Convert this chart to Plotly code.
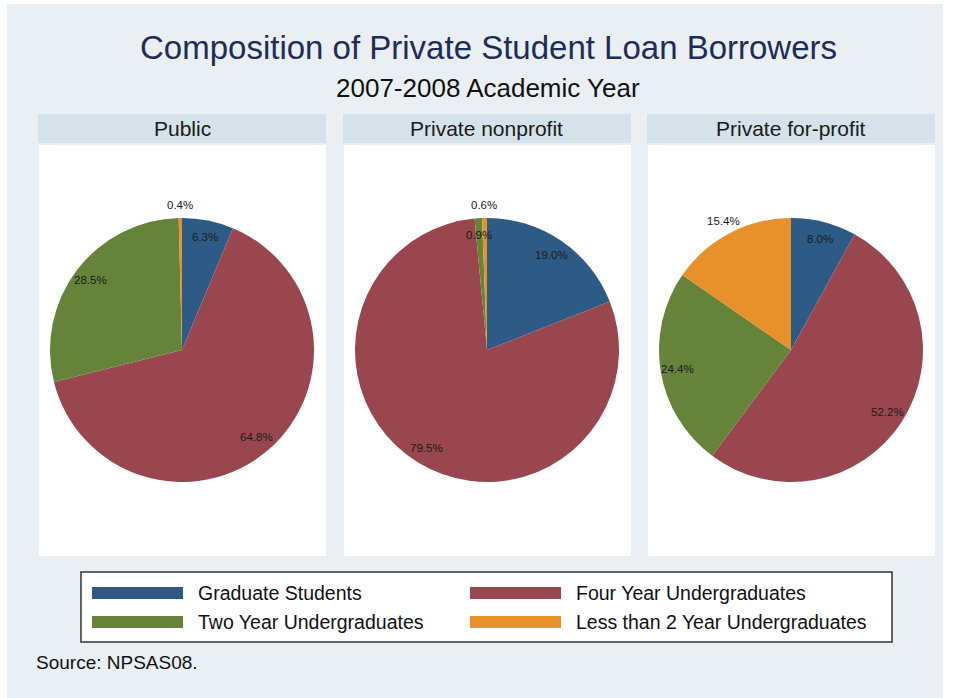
import math
import plotly.graph_objects as go

# Composition of private student loan borrowers, NPSAS 2007-08
categories = [
    "Graduate Students",
    "Four Year Undergraduates",
    "Two Year Undergraduates",
    "Less than 2 Year Undergraduates",
]
sectors = ["Public", "Private nonprofit", "Private for-profit"]

public_pct = [6.3, 64.8, 28.5, 0.4]
nonprofit_pct = [19.0, 79.5, 0.9, 0.6]
forprofit_pct = [8.0, 52.2, 24.4, 15.4]
sector_values = [public_pct, nonprofit_pct, forprofit_pct]

title_text = "Composition of Private Student Loan Borrowers"
subtitle_text = "2007-2008 Academic Year"
source_text = "Source: NPSAS08."

# ---- styling -------------------------------------------------------------
W, H = 954, 698
FONT = "Liberation Sans, Arial, Helvetica, sans-serif"
slice_colors = ["#2e5a86", "#9a464e", "#658339", "#e8902a"]
bg_color = "#e9eff2"
strip_color = "#d6e2e9"
title_color = "#1e2c5a"

panel_left = [38, 343, 647]
panel_w = 288
strip_top, strip_bot = 114, 143
body_top, body_bot = 145, 556
pie_r = 132
pie_cy = 350

# labels drawn just outside the rim instead of inside the slice
outside_labels = {
    ("Public", "Less than 2 Year Undergraduates"),
    ("Private nonprofit", "Less than 2 Year Undergraduates"),
    ("Private for-profit", "Less than 2 Year Undergraduates"),
}


def px(x):
    return x / W


def py(y):
    return 1 - y / H


fig = go.Figure()
shapes = []
annotations = []

# page background
shapes.append(dict(type="rect", xref="paper", yref="paper",
                   x0=px(7), x1=px(943), y0=py(698), y1=py(4),
                   fillcolor=bg_color, line=dict(width=0), layer="below"))

for i, (sector, vals) in enumerate(zip(sectors, sector_values)):
    x0 = panel_left[i]
    x1 = x0 + panel_w
    cx = (x0 + x1) / 2

    # header strip and white plot region
    shapes.append(dict(type="rect", xref="paper", yref="paper",
                       x0=px(x0), x1=px(x1), y0=py(strip_bot), y1=py(strip_top),
                       fillcolor=strip_color, line=dict(width=0), layer="below"))
    shapes.append(dict(type="rect", xref="paper", yref="paper",
                       x0=px(x0 + 1), x1=px(x1), y0=py(body_bot), y1=py(body_top),
                       fillcolor="white", line=dict(width=0), layer="below"))
    annotations.append(dict(text=sector, xref="paper", yref="paper",
                            x=px(cx), y=py((strip_top + strip_bot) / 2),
                            showarrow=False, xanchor="center", yanchor="middle",
                            font=dict(family=FONT, size=21, color="#1a1a1a")))

    fig.add_trace(go.Pie(
        labels=categories,
        values=vals,
        sort=False,
        direction="clockwise",
        rotation=0,
        marker=dict(colors=slice_colors, line=dict(width=0)),
        textinfo="none",
        hovertemplate="%{label}: %{value:.1f}%<extra>" + sector + "</extra>",
        showlegend=False,
        domain=dict(x=[px(cx - pie_r), px(cx + pie_r)],
                    y=[py(pie_cy + pie_r), py(pie_cy - pie_r)]),
    ))

    # percentage labels at the middle angle of each slice
    total = sum(vals)
    cum = 0.0
    for cat, v in zip(categories, vals):
        mid = (cum + v / 2) / total * 2 * math.pi
        cum += v
        rr = pie_r * (1.1 if (sector, cat) in outside_labels else 0.87)
        lx = cx + rr * math.sin(mid)
        ly = pie_cy - rr * math.cos(mid)
        annotations.append(dict(text=f"{v:.1f}%", xref="paper", yref="paper",
                                x=px(lx), y=py(ly), showarrow=False,
                                xanchor="center", yanchor="middle",
                                font=dict(family=FONT, size=11.5, color="#1a1a1a")))

# titles
annotations.append(dict(text=title_text, xref="paper", yref="paper",
                        x=px(488), y=py(48), showarrow=False,
                        xanchor="center", yanchor="middle",
                        font=dict(family=FONT, size=33, color=title_color)))
annotations.append(dict(text=subtitle_text, xref="paper", yref="paper",
                        x=px(488), y=py(88), showarrow=False,
                        xanchor="center", yanchor="middle",
                        font=dict(family=FONT, size=26, color="#111111")))

# legend box with wide colour swatches
shapes.append(dict(type="rect", xref="paper", yref="paper",
                   x0=px(81), x1=px(892), y0=py(642), y1=py(572),
                   fillcolor="white", line=dict(color="#333333", width=1.5)))
col_swatch_x = [92, 470]
row_y = [593, 622]
for k, (cat, col) in enumerate(zip(categories, slice_colors)):
    sx = col_swatch_x[k % 2]
    sy = row_y[k // 2]
    shapes.append(dict(type="rect", xref="paper", yref="paper",
                       x0=px(sx), x1=px(sx + 91), y0=py(sy + 6), y1=py(sy - 6),
                       fillcolor=col, line=dict(width=0)))
    annotations.append(dict(text=cat, xref="paper", yref="paper",
                            x=px(sx + 104), y=py(sy), showarrow=False,
                            xanchor="left", yanchor="middle",
                            font=dict(family=FONT, size=19.5, color="#111111")))

annotations.append(dict(text=source_text, xref="paper", yref="paper",
                        x=px(34), y=py(662), showarrow=False,
                        xanchor="left", yanchor="middle",
                        font=dict(family=FONT, size=19, color="#111111")))

fig.update_layout(
    width=W, height=H,
    margin=dict(l=0, r=0, t=0, b=0),
    paper_bgcolor="white",
    plot_bgcolor="white",
    shapes=shapes,
    annotations=annotations,
    showlegend=False,
)

fig.write_html("out.html")
